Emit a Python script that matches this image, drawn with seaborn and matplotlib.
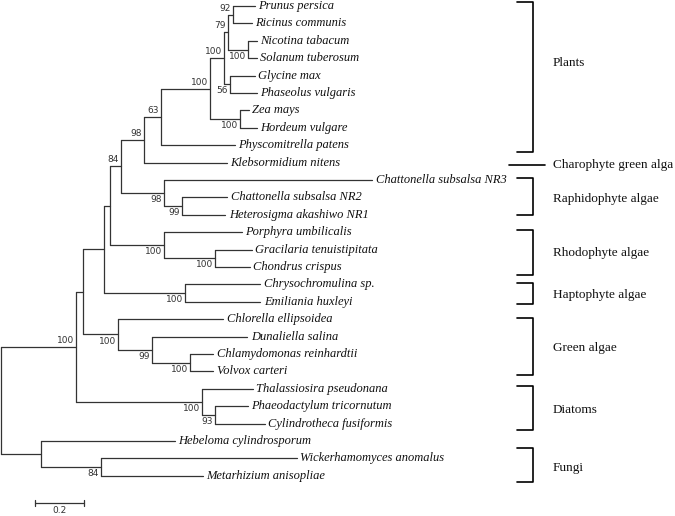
import matplotlib
matplotlib.use("Agg")
import matplotlib.pyplot as plt
import matplotlib.transforms as mtransforms
import pandas as pd
import seaborn as sns

# tree topology (upper child first), branch lengths and bootstrap support
children = {
    "root": ["A", "F"],
    "A": ["B", "Dia"],
    "B": ["C", "G"],
    "C": ["E", "H"],
    "E": ["K", "R"],
    "K": ["L", "P"],
    "L": ["M", "Klebsormidium nitens"],
    "M": ["N", "Physcomitrella patens"],
    "N": ["O", "Z"],
    "O": ["Q", "S"],
    "Q": ["T", "U"],
    "T": ["Prunus persica", "Ricinus communis"],
    "U": ["Nicotina tabacum", "Solanum tuberosum"],
    "S": ["Glycine max", "Phaseolus vulgaris"],
    "Z": ["Zea mays", "Hordeum vulgare"],
    "P": ["Chattonella subsalsa NR3", "P2"],
    "P2": ["Chattonella subsalsa NR2", "Heterosigma akashiwo NR1"],
    "R": ["Porphyra umbilicalis", "R2"],
    "R2": ["Gracilaria tenuistipitata", "Chondrus crispus"],
    "H": ["Chrysochromulina sp.", "Emiliania huxleyi"],
    "G": ["Chlorella ellipsoidea", "G2"],
    "G2": ["Dunaliella salina", "G3"],
    "G3": ["Chlamydomonas reinhardtii", "Volvox carteri"],
    "Dia": ["Thalassiosira pseudonana", "D2"],
    "D2": ["Phaeodactylum tricornutum", "Cylindrotheca fusiformis"],
    "F": ["Hebeloma cylindrosporum", "F2"],
    "F2": ["Wickerhamomyces anomalus", "Metarhizium anisopliae"],
}

branch_len = {
    "A": 0.306, "F": 0.163, "B": 0.029, "Dia": 0.514, "C": 0.086, "G": 0.143,
    "E": 0.024, "H": 0.331, "K": 0.045, "R": 0.220, "L": 0.094, "P": 0.176,
    "M": 0.069, "Klebsormidium nitens": 0.339, "N": 0.200,
    "Physcomitrella patens": 0.302, "O": 0.057, "Z": 0.122, "Q": 0.016,
    "S": 0.024, "T": 0.020, "U": 0.082,
    "Prunus persica": 0.090, "Ricinus communis": 0.078,
    "Nicotina tabacum": 0.037, "Solanum tuberosum": 0.037,
    "Glycine max": 0.102, "Phaseolus vulgaris": 0.110,
    "Zea mays": 0.037, "Hordeum vulgare": 0.069,
    "Chattonella subsalsa NR3": 0.849, "P2": 0.073,
    "Chattonella subsalsa NR2": 0.184, "Heterosigma akashiwo NR1": 0.176,
    "Porphyra umbilicalis": 0.318, "R2": 0.208,
    "Gracilaria tenuistipitata": 0.151, "Chondrus crispus": 0.143,
    "Chrysochromulina sp.": 0.306, "Emiliania huxleyi": 0.306,
    "Chlorella ellipsoidea": 0.429, "G2": 0.139, "Dunaliella salina": 0.388,
    "G3": 0.155, "Chlamydomonas reinhardtii": 0.094, "Volvox carteri": 0.094,
    "Thalassiosira pseudonana": 0.208, "D2": 0.053,
    "Phaeodactylum tricornutum": 0.135, "Cylindrotheca fusiformis": 0.204,
    "Hebeloma cylindrosporum": 0.547, "F2": 0.245,
    "Wickerhamomyces anomalus": 0.800, "Metarhizium anisopliae": 0.416,
}

support = {
    "T": 92, "Q": 79, "O": 100, "N": 100, "M": 63, "L": 98, "K": 84,
    "U": 100, "S": 56, "Z": 100, "P": 98, "P2": 99, "R": 100, "R2": 100,
    "H": 100, "G": 100, "G2": 99, "G3": 100, "A": 100, "Dia": 100,
    "D2": 93, "F2": 84,
}

# clade groups on the right: name, bracket top, bracket bottom, label y (leaf units)
group_names = ["Plants", "Raphidophyte algae", "Rhodophyte algae", "Haptophyte algae",
               "Green algae", "Diatoms", "Fungi"]
group_top = [-0.23, 9.89, 12.87, 15.92, 17.93, 21.84, 25.40]
group_bottom = [8.39, 12.01, 15.46, 17.13, 21.20, 24.37, 27.36]
group_label_y = [3.28, 11.09, 14.20, 16.60, 19.66, 23.20, 26.55]
single_name = "Charophyte green alga"
single_y = 9.14

scale_len = 0.2

# ---- layout ----
pos_x, pos_y, leaves = {}, {}, []


def layout(node, depth):
    pos_x[node] = depth
    if node not in children:
        pos_y[node] = len(leaves)
        leaves.append(node)
        return
    for ch in children[node]:
        layout(ch, depth + branch_len[ch])
    ys = [pos_y[c] for c in children[node]]
    pos_y[node] = (ys[0] + ys[-1]) / 2


layout("root", 0.0)

rows = []
seg = 0
for parent, kids in children.items():
    # vertical connector
    rows.append((seg, pos_x[parent], pos_y[kids[0]]))
    rows.append((seg, pos_x[parent], pos_y[kids[-1]]))
    seg += 1
    for ch in kids:
        rows.append((seg, pos_x[parent], pos_y[ch]))
        rows.append((seg, pos_x[ch], pos_y[ch]))
        seg += 1
segs = pd.DataFrame(rows, columns=["seg", "x", "y"])

# ---- plot ----
sns.set_style("white")
fig = plt.figure(figsize=(6.75, 5.16), dpi=100)
ax = fig.add_axes([0, 0, 1, 1])

sns.lineplot(data=segs, x="x", y="y", units="seg", estimator=None, sort=False,
             color="#333333", linewidth=0.9, legend=False, ax=ax)

for leaf in leaves:
    ax.annotate(leaf, (pos_x[leaf], pos_y[leaf]), xytext=(2.5, 0),
                textcoords="offset points", ha="left", va="center",
                fontsize=9, fontstyle="italic", family="Liberation Serif",
                color="#111111")

for parent, kids in children.items():
    for i, ch in enumerate(kids):
        if ch in support:
            dy = 1.5 if i == 0 else -1.5
            ax.annotate(str(support[ch]), (pos_x[ch], pos_y[ch]), xytext=(-1.5, dy),
                        textcoords="offset points", ha="right",
                        va="bottom" if i == 0 else "top",
                        fontsize=6.5, family="DejaVu Sans", color="#333333")

# right-hand brackets (x in axes fraction, y in leaf units)
trans = mtransforms.blended_transform_factory(ax.transAxes, ax.transData)
bx0, bx1, tx = 517 / 675, 533 / 675, 553 / 675
for name, top, bot, ly in zip(group_names, group_top, group_bottom, group_label_y):
    ax.plot([bx0, bx1, bx1, bx0], [top, top, bot, bot], transform=trans,
            color="black", linewidth=1.2, solid_joinstyle="round")
    ax.text(tx, ly, name, transform=trans, ha="left", va="center",
            fontsize=9.5, family="Liberation Serif", color="#111111")
ax.plot([509 / 675, 545 / 675], [single_y, single_y], transform=trans,
        color="black", linewidth=1.2)
ax.text(tx, single_y, single_name, transform=trans, ha="left", va="center",
        fontsize=9.5, family="Liberation Serif", color="#111111")

# scale bar
sb_x0, sb_y = 0.139, 28.55
ax.plot([sb_x0, sb_x0 + scale_len], [sb_y, sb_y], color="#333333", linewidth=0.9)
for xx in (sb_x0, sb_x0 + scale_len):
    ax.plot([xx, xx], [sb_y - 0.17, sb_y + 0.17], color="#333333", linewidth=0.9)
ax.text(sb_x0 + scale_len / 2, sb_y + 0.2, f"{scale_len}", ha="center", va="top",
        fontsize=6.5, family="DejaVu Sans", color="#333333")

ax.set_xlim(-1 / 245, 674 / 245)
ax.set_ylim(510 / 17.4, -6 / 17.4)
ax.set_axis_off()

fig.savefig("out.png", dpi=100)
